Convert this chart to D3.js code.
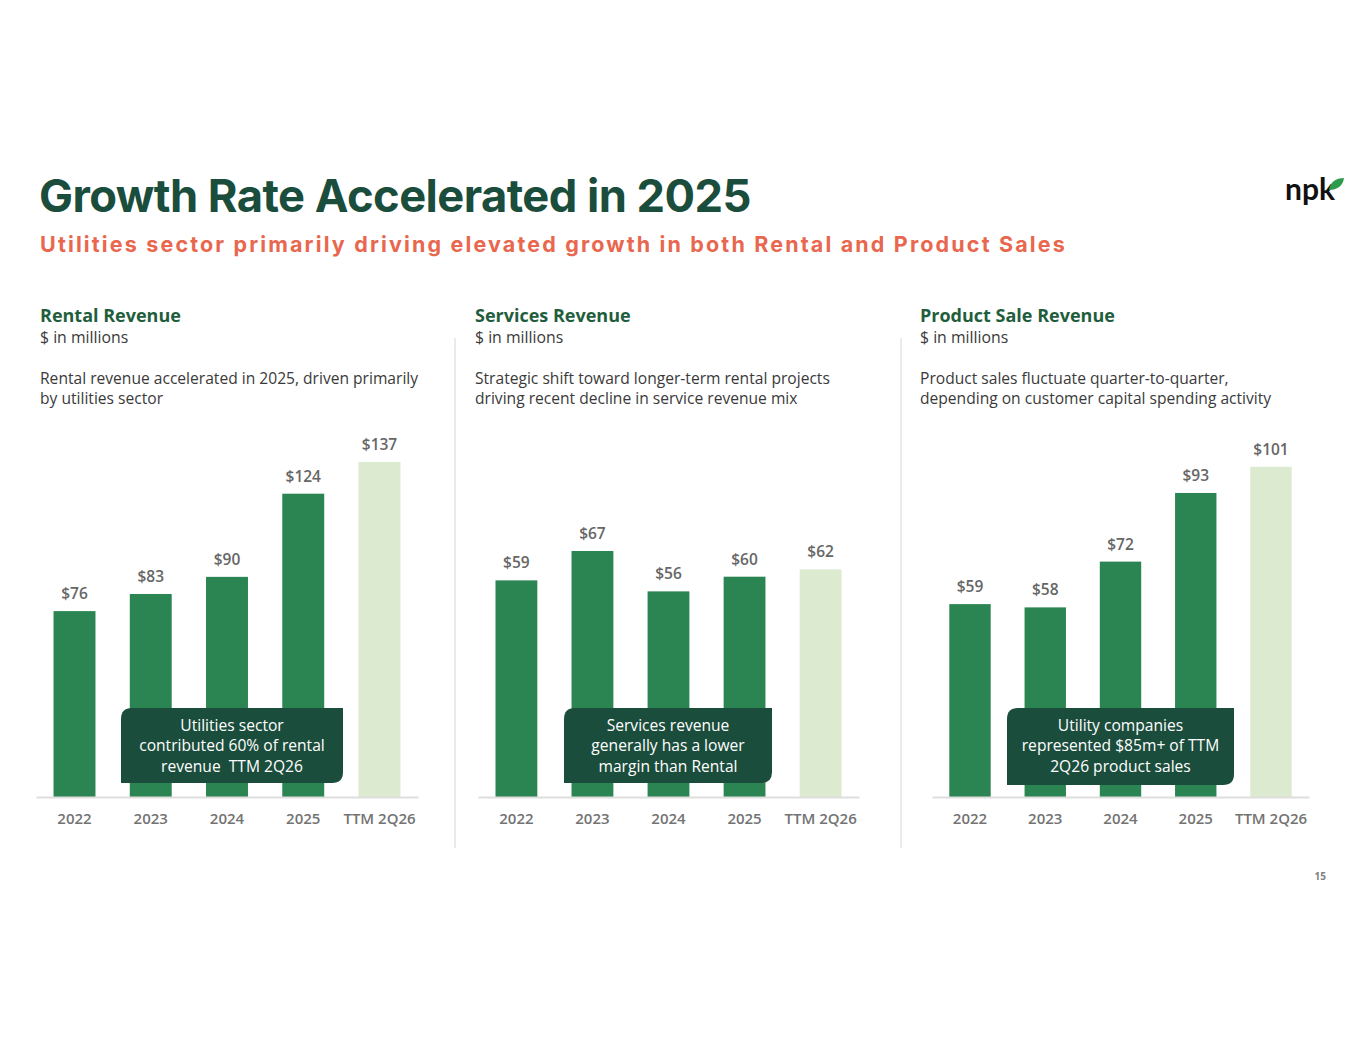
<!DOCTYPE html>
<html>
<head>
<meta charset="utf-8">
<script src="https://cdn.jsdelivr.net/npm/d3@7"></script>
<style>
  body { margin: 0; background: #fff; }
  svg { display: block; }
  .callout { white-space: pre; }
</style>
</head>
<body>
<div id="slide"></div>
<script>
// chart data
const categories = ["2022", "2023", "2024", "2025", "TTM 2Q26"];
const rentalValues = [76, 83, 90, 124, 137];
const servicesValues = [59, 67, 56, 60, 62];
const productValues = [59, 58, 72, 93, 101];

const panelTitles = ["Rental Revenue", "Services Revenue", "Product Sale Revenue"];
const panelNotes = [
  ["Rental revenue accelerated in 2025, driven primarily", "by utilities sector"],
  ["Strategic shift toward longer-term rental projects", "driving recent decline in service revenue mix"],
  ["Product sales fluctuate quarter-to-quarter,", "depending on customer capital spending activity"]
];
const calloutTexts = [
  ["Utilities sector", "contributed 60% of rental", "revenue  TTM 2Q26"],
  ["Services revenue", "generally has a lower", "margin than Rental"],
  ["Utility companies", "represented $85m+ of TTM", "2Q26 product sales"]
];

var W = 1365, H = 1055;
var darkGreen = "#1b4d3c";
var barGreen = "#2a8552";
var ttmGreen = "#dcebcf";
var bodyFont = "'Open Sans', sans-serif";

var svg = d3.select("#slide").append("svg")
  .attr("width", W).attr("height", H);

svg.append("rect").attr("width", W).attr("height", H).attr("fill", "#fff");

// title + subtitle
svg.append("text")
  .attr("x", 39).attr("y", 212)
  .attr("font-family", "Inter, sans-serif")
  .attr("font-weight", 700)
  .attr("font-size", 45.3)
  .attr("letter-spacing", -0.55)
  .attr("fill", darkGreen)
  .text("Growth Rate Accelerated in 2025");

svg.append("text")
  .attr("x", 40).attr("y", 252)
  .attr("font-family", "Inter, sans-serif")
  .attr("font-weight", 700)
  .attr("font-size", 21.5)
  .attr("letter-spacing", 2.15)
  .attr("fill", "#e8674e")
  .text("Utilities sector primarily driving elevated growth in both Rental and Product Sales");

// npk logo
var logo = svg.append("g");
logo.append("text")
  .attr("x", 1285).attr("y", 200)
  .attr("font-family", "Lato, sans-serif")
  .attr("font-weight", 700)
  .attr("font-size", 30)
  .attr("fill", "#111")
  .text("npk");
logo.append("path")
  .attr("d", "M1329,190 C1330,182 1336,178 1344,178 C1343,186 1337,190 1329,190 Z")
  .attr("fill", "#2e9a4c");

// page number
svg.append("text")
  .attr("x", 1326).attr("y", 880)
  .attr("text-anchor", "end")
  .attr("font-family", bodyFont)
  .attr("font-weight", 700)
  .attr("font-size", 10)
  .attr("fill", "#7f7f7f")
  .text("15");

// separators between panels
[455, 901].forEach(function(x) {
  svg.append("line")
    .attr("x1", x).attr("x2", x)
    .attr("y1", 338).attr("y2", 848)
    .attr("stroke", "#d6d6d6").attr("stroke-width", 1);
});

// panel layout: left text edge, axis range, scale top value
var panels = [
  {values: rentalValues, textX: 40, range: [36, 418], yMax: 139, box: [121, 708, 222, 75]},
  {values: servicesValues, textX: 475, range: [478, 859], yMax: 92.6, box: [564, 708, 208, 75]},
  {values: productValues, textX: 920, range: [932, 1309], yMax: 104, box: [1007, 708, 227, 77]}
];

var baseY = 797;

// leaf-shaped box: rounded top-left and bottom-right corners
function leafBox(x, y, w, h, r) {
  return "M" + x + "," + (y + r) +
    " Q" + x + "," + y + " " + (x + r) + "," + y +
    " L" + (x + w) + "," + y +
    " L" + (x + w) + "," + (y + h - r) +
    " Q" + (x + w) + "," + (y + h) + " " + (x + w - r) + "," + (y + h) +
    " L" + x + "," + (y + h) + " Z";
}

panels.forEach(function(p, i) {
  var g = svg.append("g");

  // header text
  g.append("text")
    .attr("x", p.textX).attr("y", 322)
    .attr("font-family", bodyFont)
    .attr("font-weight", 700)
    .attr("font-size", 18)
    .attr("fill", "#1f5e3c")
    .text(panelTitles[i]);
  g.append("text")
    .attr("x", p.textX).attr("y", 343)
    .attr("font-family", bodyFont)
    .attr("font-size", 15.8)
    .attr("fill", "#3a3a3a")
    .text("$ in millions");
  panelNotes[i].forEach(function(line, j) {
    g.append("text")
      .attr("x", p.textX).attr("y", 384 + j * 20)
      .attr("font-family", bodyFont)
      .attr("font-size", 15.6)
      .attr("fill", "#3a3a3a")
      .text(line);
  });

  var x = d3.scaleBand()
    .domain(categories)
    .range(p.range)
    .paddingInner(0.45)
    .paddingOuter(0.23);

  var y = d3.scaleLinear()
    .domain([0, p.yMax])
    .range([baseY, baseY - 340]);

  var data = categories.map(function(c, k) { return {cat: c, val: p.values[k]}; });

  g.selectAll(".bar")
    .data(data)
    .enter()
    .append("rect")
      .attr("class", "bar")
      .attr("x", function(d) { return x(d.cat); })
      .attr("y", function(d) { return y(d.val); })
      .attr("width", x.bandwidth())
      .attr("height", function(d) { return baseY - y(d.val); })
      .attr("fill", function(d, k) { return k == categories.length - 1 ? ttmGreen : barGreen; });

  g.selectAll(".val")
    .data(data)
    .enter()
    .append("text")
      .attr("class", "val")
      .attr("x", function(d) { return x(d.cat) + x.bandwidth() / 2; })
      .attr("y", function(d) { return y(d.val) - 12; })
      .attr("text-anchor", "middle")
      .attr("font-family", bodyFont)
      .attr("font-weight", 600)
      .attr("font-size", 15.5)
      .attr("fill", "#666")
      .text(function(d) { return "$" + d.val; });

  // x axis
  var axis = g.append("g")
    .attr("transform", "translate(0," + baseY + ")")
    .call(d3.axisBottom(x).tickSize(0).tickPadding(16));
  axis.select(".domain")
    .attr("stroke", "#dedede")
    .attr("stroke-width", 2);
  axis.selectAll("text")
    .attr("font-family", bodyFont)
    .attr("font-weight", 600)
    .attr("font-size", 15)
    .attr("fill", "#737373");

  // callout box
  var b = p.box;
  g.append("path")
    .attr("d", leafBox(b[0], b[1], b[2], b[3], 11))
    .attr("fill", darkGreen);
  calloutTexts[i].forEach(function(line, j) {
    g.append("text")
      .attr("class", "callout")
      .attr("x", b[0] + b[2] / 2)
      .attr("y", b[1] + 22.5 + j * 20.5)
      .attr("text-anchor", "middle")
      .attr("font-family", bodyFont)
      .attr("font-size", 15.6)
      .attr("fill", "#fff")
      .text(line);
  });
});
</script>
</body>
</html>
